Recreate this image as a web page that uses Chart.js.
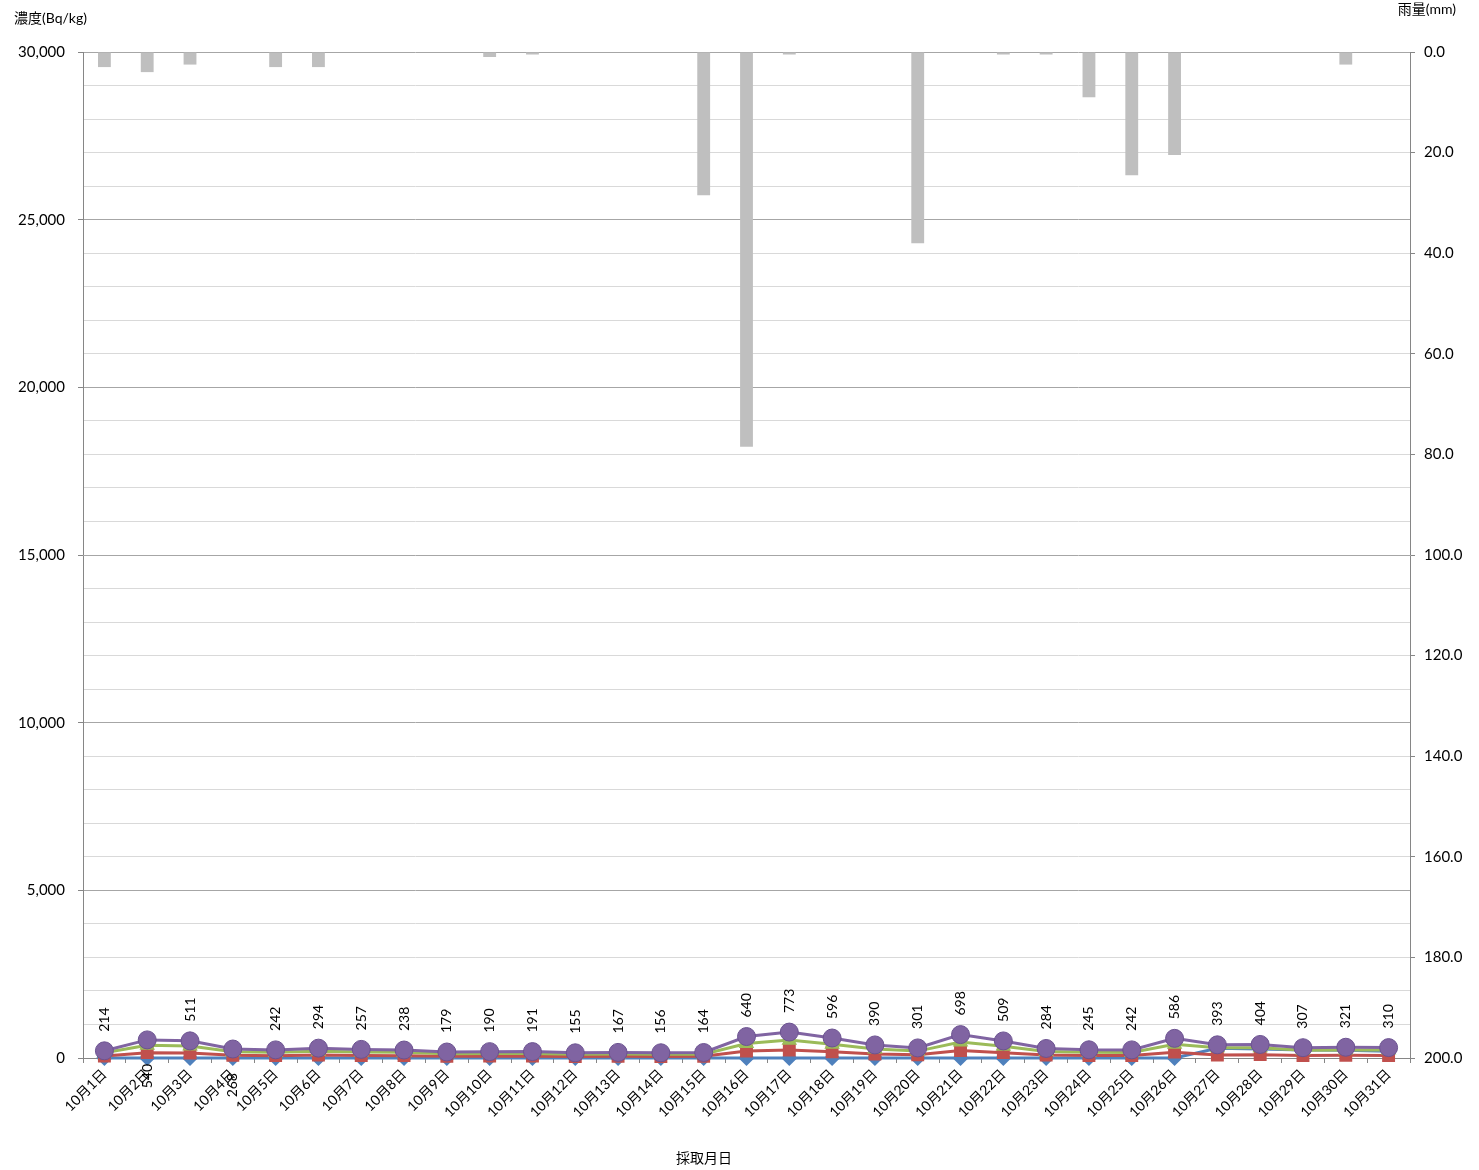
<!DOCTYPE html>
<html lang="ja">
<head>
<meta charset="utf-8">
<script src="https://cdn.jsdelivr.net/npm/chart.js@4.4.1/dist/chart.umd.min.js"></script>
<style>
  html, body { margin: 0; padding: 0; background: #fff; }
  #wrap { position: relative; width: 1479px; height: 1170px; }
</style>
</head>
<body>
<div id="wrap"><canvas id="chart" width="1479" height="1170"></canvas></div>
<script>
const dates = ['10月1日', '10月2日', '10月3日', '10月4日', '10月5日', '10月6日', '10月7日', '10月8日',
  '10月9日', '10月10日', '10月11日', '10月12日', '10月13日', '10月14日', '10月15日', '10月16日',
  '10月17日', '10月18日', '10月19日', '10月20日', '10月21日', '10月22日', '10月23日', '10月24日',
  '10月25日', '10月26日', '10月27日', '10月28日', '10月29日', '10月30日', '10月31日'];

// 雨量(mm)
const rainfall = [3.0, 4.0, 2.5, 0, 3.0, 3.0, 0, 0, 0, 1.0, 0.5, 0, 0, 0, 28.5, 78.5,
  0.5, 0, 0, 38.0, 0, 0.5, 0.5, 9.0, 24.5, 20.5, 0, 0, 0, 2.5, 0];

// 濃度(Bq/kg)
const seriesBlue = [0, 0, 0, 0, 0, 0, 0, 0, 0, 0, 0, 0, 0, 0, 0, 0,
  0, 0, 0, 0, 0, 0, 0, 0, 0, 0, 290, 270, 240, 230, 200];
const seriesRed = [60, 160, 150, 80, 70, 90, 75, 70, 50, 55, 55, 45, 50, 45, 50, 210,
  240, 185, 120, 95, 220, 160, 90, 75, 75, 175, 90, 100, 75, 80, 75];
const seriesGreen = [154, 380, 361, 188, 172, 204, 182, 168, 129, 135, 136, 110, 117, 111, 114, 430,
  533, 411, 270, 206, 478, 349, 194, 170, 167, 411, 303, 304, 232, 241, 235];
const totals = [214, 540, 511, 268, 242, 294, 257, 238, 179, 190, 191, 155, 167, 156, 164, 640,
  773, 596, 390, 301, 698, 509, 284, 245, 242, 586, 393, 404, 307, 321, 310];

const labelsBelow = [1, 3];

const FONT = "Lato, 'Noto Sans CJK JP', sans-serif";
Chart.defaults.font.family = FONT;
Chart.defaults.font.size = 14;
Chart.defaults.color = '#000';

const annotate = {
  id: 'annotate',
  afterDatasetsDraw(chart) {
    const ctx = chart.ctx;
    const meta = chart.getDatasetMeta(4);
    ctx.save();
    ctx.font = `14px ${FONT}`;
    ctx.fillStyle = '#000';
    ctx.textBaseline = 'middle';
    meta.data.forEach((pt, i) => {
      const below = labelsBelow.includes(i);
      ctx.save();
      ctx.translate(pt.x, below ? pt.y + 24 : pt.y - 19);
      ctx.rotate(-Math.PI / 2);
      ctx.textAlign = below ? 'right' : 'left';
      ctx.fillText(String(totals[i]), 0, 0);
      ctx.restore();
    });
    ctx.restore();
  },
  afterDraw(chart) {
    const ctx = chart.ctx;
    ctx.save();
    ctx.font = `14px ${FONT}`;
    ctx.fillStyle = '#000';
    ctx.textBaseline = 'middle';
    ctx.textAlign = 'left';
    ctx.fillText('濃度(Bq/kg)', 14, 18);
    ctx.textAlign = 'right';
    ctx.fillText('雨量(mm)', 1456, 9);
    ctx.textAlign = 'center';
    ctx.fillText('採取月日', 704, 1158);
    ctx.restore();
  },
};

function lineSet(label, data, color, style, radius, order) {
  return {
    type: 'line',
    label,
    data,
    yAxisID: 'y',
    borderColor: color,
    backgroundColor: color,
    borderWidth: 3,
    pointStyle: style,
    pointRadius: radius,
    pointBorderColor: color,
    pointBackgroundColor: color,
    tension: 0,
    clip: false,
    order,
  };
}

new Chart(document.getElementById('chart'), {
  data: {
    labels: dates,
    datasets: [
      {
        type: 'bar',
        label: '雨量',
        data: rainfall,
        yAxisID: 'y2',
        backgroundColor: '#bfbfbf',
        barPercentage: 0.3,
        categoryPercentage: 1,
        order: 10,
      },
      lineSet('系列1', seriesBlue, '#4f81bd', 'rectRot', 6, 4),
      lineSet('系列2', seriesRed, '#c0504d', 'rect', 7, 3),
      lineSet('系列3', seriesGreen, '#9bbb59', 'triangle', 6, 2),
      {
        ...lineSet('合計', totals, '#8064a2', 'circle', 9, 1),
        pointBorderColor: '#6b5290',
        pointBorderWidth: 1,
      },
    ],
  },
  options: {
    responsive: false,
    devicePixelRatio: 1,
    animation: false,
    layout: { padding: { top: 52, left: 0, right: 0, bottom: 0 } },
    plugins: { legend: { display: false }, tooltip: { enabled: false } },
    scales: {
      x: {
        offset: true,
        grid: {
          offset: true,
          drawOnChartArea: false,
          drawTicks: true,
          tickLength: 5,
          tickColor: '#868686',
        },
        border: { color: '#868686' },
        ticks: { autoSkip: false, maxRotation: 45, minRotation: 45, padding: 3, font: { size: 14 } },
        afterFit(scale) { scale.height = 112; },
      },
      y: {
        position: 'left',
        min: 0,
        max: 30000,
        ticks: {
          stepSize: 1000,
          padding: 13,
          font: { size: 15 },
          callback: v => (v % 5000 === 0 ? v.toLocaleString('en-US') : ''),
        },
        grid: {
          color: c => (c.tick && c.tick.value % 5000 === 0 ? '#a6a6a6' : '#d9d9d9'),
          tickLength: 5,
          tickColor: c => (c.tick && c.tick.value % 5000 === 0 ? '#868686' : 'rgba(0,0,0,0)'),
        },
        border: { color: '#868686' },
        afterFit(scale) { scale.width = 83; },
      },
      y2: {
        position: 'right',
        reverse: true,
        min: 0,
        max: 200,
        ticks: { stepSize: 20, padding: 9, font: { size: 15 }, callback: v => v.toFixed(1) },
        grid: { drawOnChartArea: false, tickLength: 5, tickColor: '#868686' },
        border: { color: '#868686' },
        afterFit(scale) { scale.width = 69; },
      },
    },
  },
  plugins: [annotate],
});
</script>
</body>
</html>
